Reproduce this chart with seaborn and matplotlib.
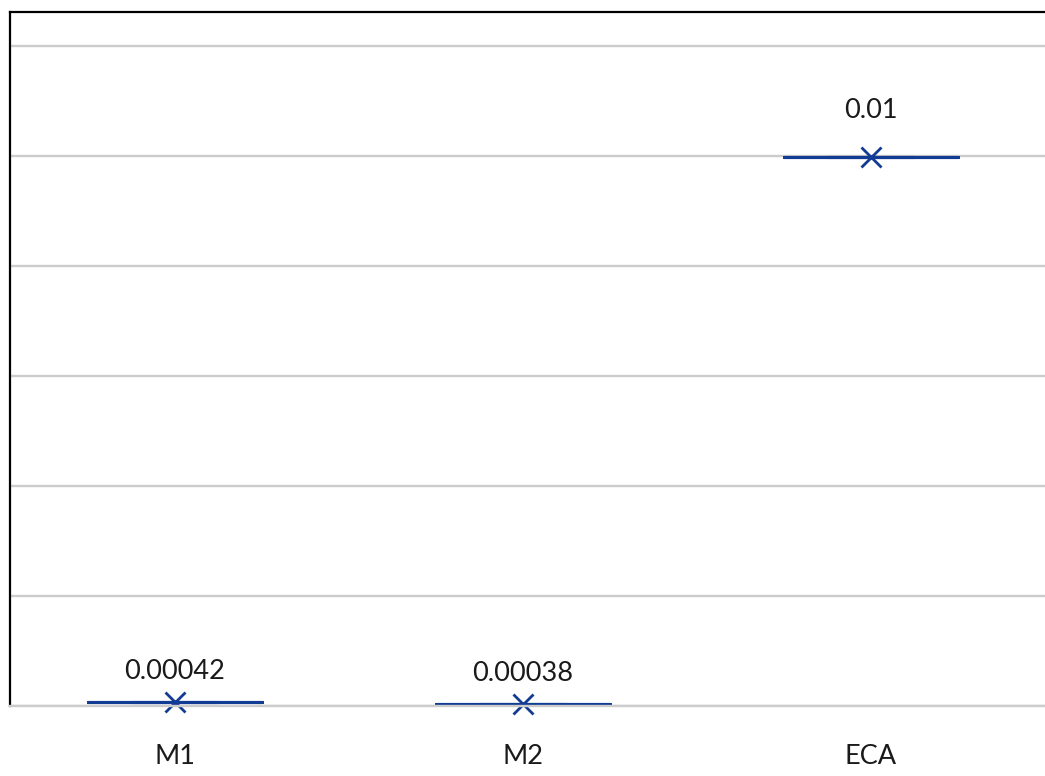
import matplotlib
matplotlib.use("Agg")
import matplotlib.pyplot as plt
import numpy as np
import pandas as pd
import seaborn as sns

sns.set_style("white")
plt.rcParams["font.family"] = ["Lato", "DejaVu Sans"]

# data
methods = ["M1", "M2", "ECA"]
values = [0.00042, 0.00038, 0.01]

# style
line_color = "#123C93"
grid_color = "#CCCCCC"
label_offsets = [22, 22, 34]  # points above the mark

df = pd.DataFrame({"method": methods, "value": values})

fig = plt.figure(figsize=(10.45, 7.76), dpi=100)
ax = fig.add_axes([10 / 1045, 1 - 706 / 776, 1 - 10 / 1045, (706 - 12) / 776])

ax.set_ylim(0.000344, 0.012561)
ax.set_yticks(0.000344 + np.arange(7) * 0.0019364)
ax.yaxis.grid(True, color=grid_color, linewidth=1.7)
ax.set_axisbelow(True)

sns.boxplot(data=df, x="method", y="value", order=methods, width=0.5,
            color=line_color, fill=False, linewidth=2.2, showfliers=False,
            showmeans=True,
            meanprops={"marker": "x", "markeredgecolor": line_color,
                       "markersize": 14, "markeredgewidth": 2.0},
            ax=ax)

# let the markers near the bottom line hang below it, as in the original
for line in ax.lines:
    line.set_clip_on(False)

ax.set_xlim(-0.474, 2.5)

for i, v in enumerate(values):
    ax.annotate(str(v), (i, v), xytext=(0, label_offsets[i]),
                textcoords="offset points", ha="center", va="center",
                fontsize=19.5, color="#1A1A1A")

ax.set_xlabel("")
ax.set_ylabel("")
ax.tick_params(axis="y", left=False, labelleft=False)
ax.tick_params(axis="x", bottom=False, pad=24, labelsize=19.5, labelcolor="#1A1A1A")

for side in ["left", "top"]:
    ax.spines[side].set_color("black")
    ax.spines[side].set_linewidth(1.6)
ax.spines["right"].set_visible(False)
ax.spines["bottom"].set_color(grid_color)
ax.spines["bottom"].set_linewidth(1.7)

fig.savefig("out.png", dpi=100, facecolor="white")
